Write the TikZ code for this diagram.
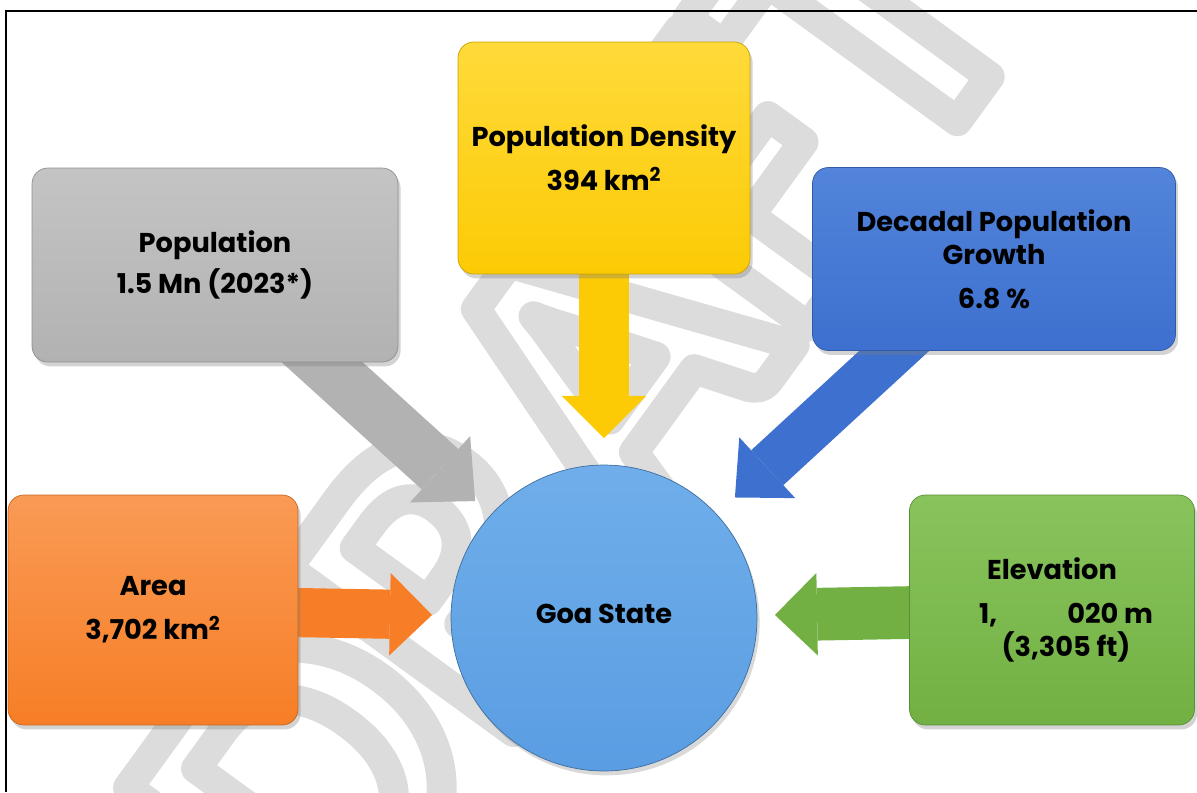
\documentclass[tikz,border=0pt]{standalone}
\usepackage{fontspec}
\setmainfont{Poppins}
\newfontfamily\wmfont{Carlito}
\usetikzlibrary{arrows.meta, shadows, backgrounds}
\pgfdeclarelayer{wmark}
\pgfsetlayers{wmark,background,main}

\definecolor{wmgray}{HTML}{DCDCDC}
\definecolor{popgray}{HTML}{B2B2B2}
\definecolor{popgraytop}{HTML}{C4C4C4}
\definecolor{denyel}{HTML}{FCCB05}
\definecolor{denyeltop}{HTML}{FFDA3A}
\definecolor{grwblue}{HTML}{3D70CF}
\definecolor{grwbluetop}{HTML}{5284DA}
\definecolor{areaorg}{HTML}{F77E26}
\definecolor{areaorgtop}{HTML}{F99A55}
\definecolor{elevgrn}{HTML}{72B043}
\definecolor{elevgrntop}{HTML}{88C45C}
\definecolor{goablue}{HTML}{5A9DE2}
\definecolor{goabluetop}{HTML}{6FAEEA}

% outlined text for the watermark
\newcommand\outlinetext[1]{\special{pdf:literal direct 1 Tr 17 w 1 j}#1\special{pdf:literal direct 0 Tr}}

\tikzset{
  infobox/.style 2 args={rounded corners=9pt, top color=#1, bottom color=#2,
    draw=#2!80!black, line width=0.4pt, align=center,
    font=\bfseries\fontsize{15.5}{19}\selectfont,
    drop shadow={shadow xshift=1.5pt, shadow yshift=-2.5pt, opacity=0.35}},
  blockarrow/.style n args={4}{line width=#2, draw=#1,
    -{Triangle[width=#3, length=#4, line width=0pt, fill=#1]}},
}

\begin{document}
\begin{tikzpicture}[x=0.02cm, y=-0.02cm]
  \useasboundingbox (0,0) rectangle (1197,792);
  \draw[line width=1pt] (6,792) -- (6,11) -- (1197,11);

  % watermark
  \begin{pgfonlayer}{wmark}
    \node[rotate=54, inner sep=0pt, text=wmgray] (wm) at (575,410)
      {\wmfont\bfseries\fontsize{245}{245}\selectfont\outlinetext{DRAFT}};
  \end{pgfonlayer}

  % boxes
  \node[infobox={popgraytop}{popgray}, minimum width=7.32cm, minimum height=3.88cm]
    (pop) at (215,265) {Population\\[4pt] 1.5 Mn (2023*)};
  \node[infobox={denyeltop}{denyel}, minimum width=5.84cm, minimum height=4.64cm]
    (dens) at (604,158) {Population Density\\[6pt] 394 km\textsuperscript{2}};
  \node[infobox={grwbluetop}{grwblue}, minimum width=7.26cm, minimum height=3.66cm]
    (grow) at (994,259) {Decadal Population\\ Growth\\[6pt] 6.8 \%};
  \node[infobox={areaorgtop}{areaorg}, minimum width=5.8cm, minimum height=4.6cm]
    (area) at (153,610) {Area\\[6pt] 3,702 km\textsuperscript{2}};
  \node[infobox={elevgrntop}{elevgrn}, minimum width=5.7cm, minimum height=4.6cm]
    (elev) at (1052,610) {Elevation\\[6pt] \hspace{16pt}1,\hspace{40pt}020 m\\ \hspace{16pt}(3,305 ft)};
  \node[circle, top color=goabluetop, bottom color=goablue, draw=goablue!70!black,
    minimum size=6.12cm, font=\bfseries\fontsize{15.5}{19}\selectfont,
    drop shadow={shadow xshift=1.5pt, shadow yshift=-2.5pt, opacity=0.3}]
    (goa) at (604,618) {\raisebox{4.5pt}{Goa State}};

  % arrows
  \begin{scope}[on background layer]
    \draw[blockarrow={popgray}{31pt}{51pt}{27pt}, shorten >=3.48cm] (pop.center) -- (goa.center);
    \draw[blockarrow={denyel}{29pt}{48pt}{24pt}, shorten >=3.6cm] (dens.center) -- (goa.center);
    \draw[blockarrow={grwblue}{27pt}{47pt}{25pt}, shorten >=3.56cm] (grow.center) -- (goa.center);
    \draw[blockarrow={areaorg}{28pt}{47pt}{24pt}, shorten >=3.44cm] (area.center) -- (goa.center);
    \draw[blockarrow={elevgrn}{30pt}{47pt}{24pt}, shorten >=3.42cm] (elev.center) -- (goa.center);
  \end{scope}
\end{tikzpicture}
\end{document}
